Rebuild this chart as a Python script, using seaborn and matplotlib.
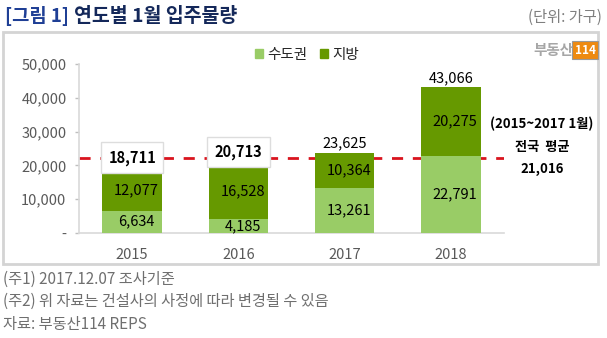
import matplotlib
matplotlib.use("Agg")
import matplotlib.pyplot as plt
import matplotlib.patches as mpatches
import seaborn as sns
import pandas as pd

# ---- data ----
years = ["2015", "2016", "2017", "2018"]
capital = [6634, 4185, 13261, 22791]      # 수도권
regional = [12077, 16528, 10364, 20275]   # 지방
totals = [18711, 20713, 23625, 43066]
avg_line_level = 22300                    # dashed line position as drawn
avg_label = "21,016"
yticks = [0, 10000, 20000, 30000, 40000, 50000]
ytick_labels = ["-", "10,000", "20,000", "30,000", "40,000", "50,000"]
legend_labels = ["수도권", "지방"]
footnotes = ["(주1) 2017.12.07 조사기준",
             "(주2) 위 자료는 건설사의 사정에 따라 변경될 수 있음",
             "자료: 부동산114 REPS"]

df = pd.DataFrame({"year": years, "capital": capital, "regional": regional, "total": totals})

sns.set_theme(style="white")
plt.rcParams["font.family"] = ["Noto Sans CJK KR", "DejaVu Sans"]

LIGHT = "#99CC66"
DARK = "#669900"
GRAY = "#595959"

fig = plt.figure(figsize=(6.07, 3.38), dpi=100)
W, H = 607, 338

def fx(px):
    return px / W

def fy(py):
    return 1 - py / H

# frame box
frame = mpatches.Rectangle((fx(3), fy(264)), fx(598) - fx(3), fy(32) - fy(264),
                           transform=fig.transFigure, fill=False,
                           edgecolor="#D4D4D4", linewidth=2, zorder=0)
fig.patches.append(frame)

ax = fig.add_axes([fx(79), fy(233), fx(504) - fx(79), fy(64) - fy(233)])
ax.set_facecolor("none")

sns.barplot(data=df, x="year", y="total", color=DARK, width=0.56,
            saturation=1, ax=ax, zorder=2, linewidth=0, edgecolor="none")
sns.barplot(data=df, x="year", y="capital", color=LIGHT, width=0.56,
            saturation=1, ax=ax, zorder=3, linewidth=0, edgecolor="none")

ax.set_xlim(-0.5, 3.5)
ax.set_ylim(0, 50000)
ax.set_yticks(yticks)
ax.set_yticklabels(ytick_labels, color=GRAY, fontsize=10.5)
ax.tick_params(axis="y", length=3, width=1, color="#BFBFBF", pad=6, left=True)
ax.tick_params(axis="x", length=0, pad=11, labelsize=10.5, labelcolor=GRAY)
ax.set_xlabel("")
ax.set_ylabel("")
for s in ["top", "right"]:
    ax.spines[s].set_visible(False)
for s in ["left", "bottom"]:
    ax.spines[s].set_color("#D9D9D9")
    ax.spines[s].set_linewidth(1.2)

# dashed average line (behind bars)
ax.axhline(avg_line_level, color="#D9141E", linestyle=(0, (4, 3.5)),
           linewidth=2, zorder=1)

# segment labels
for i in range(len(years)):
    ax.text(i + 0.04, capital[i] / 2, f"{capital[i]:,}", ha="center", va="center",
            fontsize=10.5, color="black", zorder=6)
    ax.text(i + 0.04, capital[i] + regional[i] / 2, f"{regional[i]:,}", ha="center",
            va="center", fontsize=10.5, color="black", zorder=6)

# total labels
for i in range(len(years)):
    if i < 2:
        ypos = totals[i] + (3600 if i == 0 else 3300)
        ax.text(i, ypos, f"{totals[i]:,}", ha="center", va="center", fontsize=10.5,
                fontweight="bold", color="black", zorder=7,
                bbox=dict(boxstyle="square,pad=0.5", facecolor="white",
                          edgecolor="#DDDDDD", linewidth=1))
    else:
        ax.text(i, totals[i] + 2800, f"{totals[i]:,}", ha="center", va="center",
                fontsize=10.5, color="black", zorder=7)

# right annotation
fig.text(fx(542), fy(124), "(2015~2017 1월)", ha="center", va="center",
         fontsize=9.5, fontweight="bold", color="black")
fig.text(fx(542), fy(147), "전국  평균", ha="center", va="center",
         fontsize=9.5, fontweight="bold", color="black")
fig.text(fx(542), fy(169), avg_label, ha="center", va="center",
         fontsize=9.5, fontweight="bold", color="black")

# legend
handles = [mpatches.Patch(color=LIGHT, label=legend_labels[0]),
           mpatches.Patch(color=DARK, label=legend_labels[1])]
fig.legend(handles=handles, loc="center", bbox_to_anchor=(fx(307), fy(55)),
           ncol=2, frameon=False, fontsize=10.5, handlelength=0.6, handleheight=0.6,
           handletextpad=0.3, columnspacing=0.8)

# title
fig.text(fx(5), fy(16.5), "[그림 1]", ha="left", va="center", fontsize=13.5,
         fontweight="bold", color="#1F3F95")
fig.text(fx(74), fy(16.5), "연도별 1월 입주물량", ha="left", va="center", fontsize=14,
         fontweight="bold", color="#14285A")
fig.text(fx(602), fy(17), "(단위: 가구)", ha="right", va="center", fontsize=11,
         color="#7F7F7F")

# logo
fig.text(fx(573), fy(50), "부동산", ha="right", va="center", fontsize=10.5,
         fontweight="bold", color="#A6A6A6")
fig.text(fx(585), fy(50), "114", ha="center", va="center", fontsize=8.5,
         fontweight="bold", color="white",
         bbox=dict(boxstyle="square,pad=0.2", facecolor="#EE8A10", edgecolor="#999999",
                   linewidth=0.8))

# footnotes
for k, t in enumerate(footnotes):
    fig.text(fx(3), fy(279 + 22.5 * k), t, ha="left", va="center", fontsize=11,
             color="#6F6F6F")

fig.savefig("out.png", dpi=100)
